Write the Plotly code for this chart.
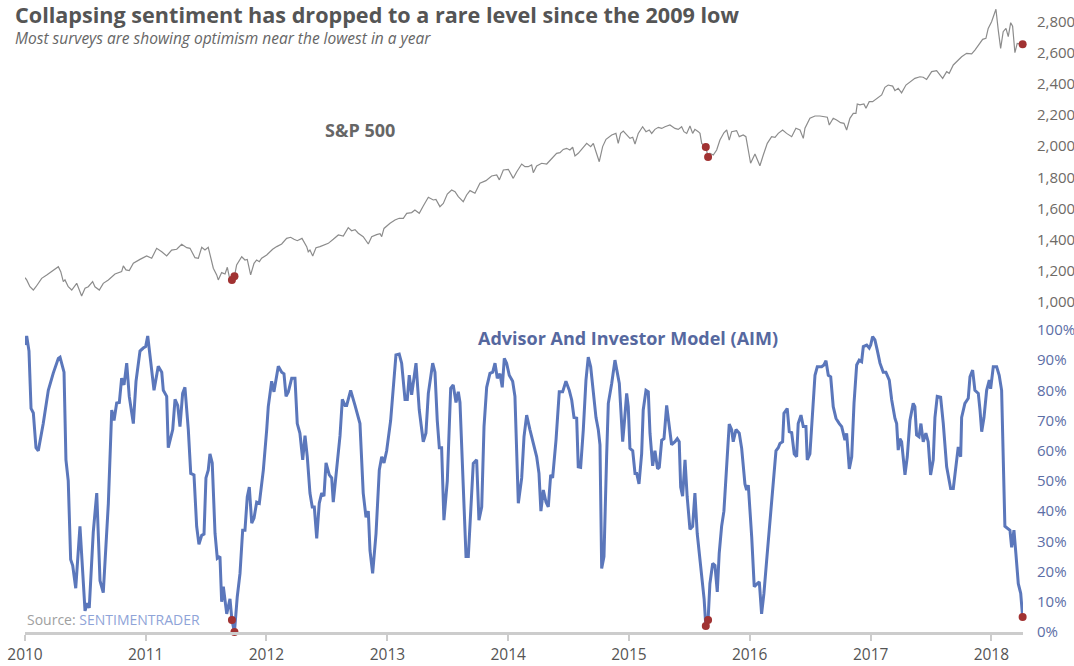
import pandas as pd
import plotly.graph_objects as go

SPX_YEARS = [
    2010.000, 2010.014, 2010.041, 2010.069, 2010.091, 2010.110, 2010.138, 2010.180, 2010.234, 2010.276,
    2010.296, 2010.317, 2010.331, 2010.358, 2010.387, 2010.428, 2010.469, 2010.497, 2010.524, 2010.560,
    2010.579, 2010.615, 2010.648, 2010.690, 2010.745, 2010.800, 2010.814, 2010.836, 2010.863, 2010.897,
    2010.952,
    2011.007, 2011.049, 2011.090, 2011.132, 2011.173, 2011.214, 2011.256, 2011.297, 2011.339, 2011.366,
    2011.407, 2011.435, 2011.463, 2011.490, 2011.517, 2011.559, 2011.587, 2011.600, 2011.628, 2011.656,
    2011.675, 2011.691, 2011.713, 2011.734, 2011.752, 2011.794, 2011.821, 2011.840, 2011.868, 2011.896,
    2011.918, 2011.940, 2011.959,
    2012.001, 2012.050, 2012.084, 2012.125, 2012.166, 2012.199, 2012.227, 2012.254, 2012.293, 2012.332,
    2012.345, 2012.359, 2012.382, 2012.409, 2012.442, 2012.475, 2012.511, 2012.552, 2012.594, 2012.635,
    2012.676, 2012.704, 2012.732, 2012.759, 2012.800, 2012.842, 2012.870, 2012.911, 2012.939, 2012.953,
    2012.972,
    2013.022, 2013.063, 2013.098, 2013.132, 2013.160, 2013.201, 2013.228, 2013.264, 2013.297, 2013.339,
    2013.380, 2013.402, 2013.435, 2013.463, 2013.496, 2013.532, 2013.560, 2013.587, 2013.628, 2013.656,
    2013.684, 2013.725, 2013.766, 2013.816, 2013.863, 2013.905, 2013.927, 2013.960,
    2014.001, 2014.042, 2014.070, 2014.112, 2014.139, 2014.166, 2014.194, 2014.208, 2014.236, 2014.277,
    2014.319, 2014.360, 2014.401, 2014.429, 2014.456, 2014.484, 2014.511, 2014.534, 2014.553, 2014.580,
    2014.622, 2014.650, 2014.683, 2014.705, 2014.727, 2014.754, 2014.782, 2014.810, 2014.857, 2014.892,
    2014.911, 2014.931, 2014.953, 2014.981,
    2015.008, 2015.031, 2015.050, 2015.077, 2015.113, 2015.141, 2015.168, 2015.188, 2015.215, 2015.243,
    2015.271, 2015.298, 2015.339, 2015.381, 2015.408, 2015.436, 2015.455, 2015.478, 2015.505, 2015.527,
    2015.546, 2015.574, 2015.588, 2015.602, 2015.636, 2015.655, 2015.670, 2015.698, 2015.726, 2015.753,
    2015.786, 2015.809, 2015.830, 2015.850, 2015.891, 2015.913, 2015.946, 2015.968,
    2016.007, 2016.043, 2016.062, 2016.084, 2016.112, 2016.145, 2016.181, 2016.209, 2016.236, 2016.272,
    2016.305, 2016.347, 2016.382, 2016.416, 2016.443, 2016.457, 2016.498, 2016.540, 2016.581, 2016.622,
    2016.642, 2016.658, 2016.691, 2016.719, 2016.752, 2016.780, 2016.802, 2016.829, 2016.857, 2016.879,
    2016.890, 2016.912, 2016.945, 2016.962, 2016.989,
    2017.017, 2017.055, 2017.092, 2017.119, 2017.146, 2017.183, 2017.202, 2017.229, 2017.257, 2017.293,
    2017.332, 2017.367, 2017.409, 2017.436, 2017.464, 2017.506, 2017.547, 2017.574, 2017.597, 2017.630,
    2017.651, 2017.685, 2017.726, 2017.754, 2017.795, 2017.837, 2017.864, 2017.900, 2017.928, 2017.955,
    2017.974,
    2018.002, 2018.038, 2018.057, 2018.077, 2018.098, 2018.121, 2018.140, 2018.160, 2018.176, 2018.195,
    2018.214, 2018.259,
]
SPX_VALUES = [
    1154, 1140, 1096, 1075, 1096, 1118, 1150, 1172, 1204, 1225,
    1193, 1129, 1140, 1096, 1075, 1118, 1037, 1086, 1096, 1129,
    1096, 1075, 1118, 1140, 1178, 1193, 1230, 1204, 1200, 1247,
    1272,
    1294, 1279, 1343, 1321, 1294, 1332, 1337, 1369, 1347, 1343,
    1283, 1279, 1350, 1332, 1350, 1215, 1172, 1140, 1187, 1178,
    1221, 1161, 1140, 1163, 1236, 1289, 1268, 1272, 1172, 1247,
    1268, 1257, 1279,
    1300, 1337, 1354, 1371, 1407, 1414, 1401, 1392, 1407, 1354,
    1321, 1332, 1294, 1347, 1354, 1365, 1375, 1401, 1429, 1422,
    1476, 1456, 1463, 1440, 1418, 1371, 1418, 1431, 1437, 1418,
    1471,
    1504, 1525, 1536, 1536, 1568, 1573, 1590, 1568, 1615, 1671,
    1654, 1658, 1611, 1632, 1692, 1718, 1707, 1675, 1643, 1686,
    1714, 1697, 1761, 1778, 1808, 1815, 1783, 1847,
    1851, 1793, 1834, 1885, 1868, 1868, 1879, 1829, 1872, 1890,
    1885, 1922, 1954, 1958, 1979, 1986, 1975, 1993, 1937, 1954,
    1997, 2018, 1997, 2018, 1964, 1900, 1997, 2044, 2072, 2082,
    2018, 2082, 2097, 2072,
    2050, 2057, 2014, 2082, 2125, 2093, 2104, 2082, 2108, 2121,
    2114, 2125, 2136, 2114, 2108, 2125, 2093, 2082, 2130, 2082,
    2108, 2093, 2082, 2018, 1995, 1930, 1954, 1943, 1975, 2039,
    2086, 2104, 2039, 2093, 2100, 2061, 2072, 2061,
    1890, 1949, 1911, 1874, 1943, 2018, 2061, 2057, 2082, 2104,
    2082, 2061, 2115, 2104, 2050, 2115, 2179, 2194, 2194, 2190,
    2186, 2136, 2179, 2168, 2151, 2147, 2104, 2179, 2211, 2211,
    2271, 2265, 2271, 2243, 2286,
    2286, 2308, 2329, 2378, 2393, 2386, 2357, 2372, 2343, 2393,
    2414, 2436, 2446, 2443, 2429, 2479, 2486, 2457, 2436, 2479,
    2468, 2522, 2554, 2575, 2597, 2593, 2618, 2661, 2687, 2693,
    2757,
    2800, 2880, 2747, 2629, 2736, 2757, 2704, 2794, 2771, 2601,
    2661, 2655,
]

AIM_YEARS = [
    2010.000, 2010.014, 2010.033, 2010.050, 2010.069, 2010.091, 2010.110, 2010.151, 2010.193, 2010.234,
    2010.276, 2010.290, 2010.323, 2010.339, 2010.358, 2010.378, 2010.395, 2010.420, 2010.455, 2010.469,
    2010.497, 2010.516, 2010.532, 2010.565, 2010.594, 2010.621, 2010.648, 2010.690, 2010.718, 2010.737,
    2010.759, 2010.781, 2010.800, 2010.820, 2010.842, 2010.863, 2010.897, 2010.919, 2010.952, 2010.979,
    2010.999,
    2011.016, 2011.035, 2011.068, 2011.103, 2011.132, 2011.145, 2011.173, 2011.186, 2011.223, 2011.242,
    2011.264, 2011.283, 2011.305, 2011.324, 2011.352, 2011.372, 2011.399, 2011.421, 2011.440, 2011.463,
    2011.482, 2011.498, 2011.517, 2011.531, 2011.550, 2011.573, 2011.592, 2011.614, 2011.628, 2011.642,
    2011.670, 2011.697, 2011.713, 2011.734, 2011.757, 2011.780, 2011.802, 2011.821, 2011.840, 2011.857,
    2011.877, 2011.896, 2011.918, 2011.940, 2011.973,
    2012.001, 2012.014, 2012.042, 2012.061, 2012.097, 2012.125, 2012.144, 2012.161, 2012.180, 2012.208,
    2012.235, 2012.254, 2012.276, 2012.299, 2012.318, 2012.337, 2012.359, 2012.378, 2012.395, 2012.415,
    2012.436, 2012.456, 2012.475, 2012.492, 2012.519, 2012.539, 2012.552, 2012.580, 2012.608, 2012.627,
    2012.649, 2012.663, 2012.696, 2012.732, 2012.759, 2012.773, 2012.800, 2012.823, 2012.842, 2012.856,
    2012.878, 2012.906, 2012.933, 2012.953, 2012.972, 2012.994,
    2013.027, 2013.049, 2013.071, 2013.098, 2013.118, 2013.146, 2013.165, 2013.181, 2013.201, 2013.237,
    2013.264, 2013.297, 2013.319, 2013.339, 2013.375, 2013.394, 2013.413, 2013.430, 2013.449, 2013.468,
    2013.496, 2013.524, 2013.545, 2013.568, 2013.587, 2013.601, 2013.623, 2013.651, 2013.670, 2013.692,
    2013.711, 2013.739, 2013.758, 2013.781, 2013.800, 2013.822, 2013.849, 2013.872, 2013.891, 2013.910,
    2013.932, 2013.951, 2013.968, 2013.987,
    2014.009, 2014.037, 2014.056, 2014.084, 2014.112, 2014.131, 2014.153, 2014.180, 2014.208, 2014.236,
    2014.255, 2014.271, 2014.291, 2014.313, 2014.332, 2014.352, 2014.368, 2014.396, 2014.423, 2014.451,
    2014.478, 2014.506, 2014.526, 2014.545, 2014.567, 2014.580, 2014.600, 2014.622, 2014.644, 2014.663,
    2014.683, 2014.705, 2014.727, 2014.746, 2014.760, 2014.774, 2014.793, 2014.815, 2014.829, 2014.857,
    2014.884, 2014.920, 2014.948, 2014.961, 2014.981, 2014.994,
    2015.008, 2015.031, 2015.050, 2015.064, 2015.083, 2015.105, 2015.118, 2015.141, 2015.160, 2015.174,
    2015.196, 2015.215, 2015.237, 2015.251, 2015.271, 2015.290, 2015.312, 2015.334, 2015.353, 2015.381,
    2015.400, 2015.416, 2015.428, 2015.444, 2015.464, 2015.482, 2015.505, 2015.527, 2015.546, 2015.565,
    2015.588, 2015.610, 2015.622, 2015.636, 2015.655, 2015.670, 2015.693, 2015.712, 2015.731, 2015.747,
    2015.767, 2015.786, 2015.809, 2015.830, 2015.850, 2015.863, 2015.886, 2015.913, 2015.933, 2015.960,
    2015.974, 2015.988,
    2016.016, 2016.037, 2016.062, 2016.079, 2016.098, 2016.117, 2016.140, 2016.167, 2016.195, 2016.217,
    2016.236, 2016.250, 2016.272, 2016.283, 2016.310, 2016.327, 2016.347, 2016.368, 2016.388, 2016.401,
    2016.424, 2016.443, 2016.465, 2016.476, 2016.498, 2016.521, 2016.540, 2016.559, 2016.595, 2016.614,
    2016.631, 2016.650, 2016.670, 2016.691, 2016.714, 2016.741, 2016.761, 2016.788, 2016.802, 2016.824,
    2016.844, 2016.863, 2016.885, 2016.906, 2016.926, 2016.940, 2016.968, 2016.989,
    2017.001, 2017.017, 2017.036, 2017.055, 2017.078, 2017.105, 2017.127, 2017.155, 2017.175, 2017.202,
    2017.216, 2017.229, 2017.243, 2017.257, 2017.285, 2017.304, 2017.326, 2017.353, 2017.367, 2017.381,
    2017.401, 2017.417, 2017.436, 2017.458, 2017.477, 2017.497, 2017.519, 2017.533, 2017.552, 2017.580,
    2017.602, 2017.630, 2017.663, 2017.685, 2017.707, 2017.726, 2017.746, 2017.754, 2017.781, 2017.809,
    2017.823, 2017.845, 2017.864, 2017.892, 2017.906, 2017.920, 2017.939, 2017.961, 2017.983, 2017.994,
    2018.016, 2018.044, 2018.065, 2018.085, 2018.112, 2018.154, 2018.168, 2018.187, 2018.203, 2018.223,
    2018.243, 2018.259,
]
AIM_VALUES = [
    95, 98, 93, 74, 72.5, 61, 60, 69, 80, 85.7,
    90.6, 91, 86, 57, 50, 24, 22, 14.5, 35, 26,
    7, 9.5, 8, 33, 46, 17, 13, 42.6, 73.5, 70,
    75.8, 76, 84, 81.8, 89, 78, 69, 83, 93, 94,
    94.5,
    98, 91, 80, 88, 86, 80, 78, 61, 67, 77,
    75, 68, 79, 81, 67, 52.5, 52, 35, 29, 32,
    32.4, 51, 53.6, 59, 56, 32.7, 24.4, 25, 10, 15,
    6, 11, 4, 0, 11.6, 19.4, 33.7, 33.7, 44.7, 48,
    36, 37.7, 43, 42.6, 53.6,
    67, 74.6, 83, 79.5, 88, 86, 85.5, 78, 79.5, 84,
    84, 69, 65.8, 57, 65, 58, 46, 41.4, 41.4, 31,
    42.6, 46, 45, 56, 52, 51, 43, 54, 65, 77,
    75, 75, 80, 75, 71, 69, 46, 38, 40, 27,
    19.4, 32.6, 53.6, 58, 56, 60,
    70, 81, 91.7, 92, 89, 77, 77, 85, 78.5, 89,
    73.5, 63, 65.8, 79, 89, 86, 70, 61, 61, 37,
    50, 80.7, 81.8, 76, 79.5, 76, 53.6, 25, 25, 41.4,
    55.8, 57, 37, 41.4, 68, 81, 85.6, 86, 89, 84,
    85.5, 81, 90.6, 89,
    85, 83, 78, 42.6, 51, 64.6, 71.8, 67, 62.4, 58,
    52.5, 40, 47, 43, 41.4, 52, 51, 63.5, 79.5, 79.5,
    83, 80, 76.8, 71, 70.8, 54.7, 54.5, 67, 83.4, 91,
    87.8, 78, 71, 67, 62, 21, 25, 58, 75.7, 82.3,
    90, 82.3, 63, 69, 79, 74.6,
    60.8, 60, 52.5, 52.5, 49, 59, 73.5, 80, 79.5, 65.8,
    55, 60, 54, 54.5, 63.5, 64, 75, 68, 62, 63,
    64, 63, 48, 45, 57, 44.7, 34, 35, 46, 32.6,
    23.8, 15, 11, 2, 4, 16, 22.7, 22, 13.3, 26,
    35, 40, 57, 68.8, 67, 63, 67, 65.8, 60.8, 49,
    47, 48.6,
    31.5, 15, 16, 16.6, 6, 12.7, 23.8, 37, 49, 60,
    61, 62.4, 63, 72.4, 74, 66.3, 66, 59, 58, 69,
    71.8, 68, 68, 57, 59, 75.7, 85, 87.8, 87.8, 88.4,
    89.8, 85, 84.5, 74.6, 70.7, 69, 68, 63.5, 65.8, 54,
    58, 75.7, 88.4, 90, 89.5, 94.5, 95, 94,
    95, 97.8, 96.7, 93.4, 89, 86, 86, 83.4, 76.8, 70.7,
    69, 60.2, 64, 63, 52, 58, 70, 75.7, 74.6, 65.2,
    64.6, 69, 63, 65.8, 63, 52, 57, 71, 78, 77.7,
    69, 54.7, 47.5, 47.5, 54.7, 61.3, 58, 71, 75.7, 77.4,
    84.5, 86.7, 80, 79, 73.5, 66.3, 71, 80, 83.4, 80.5,
    87.8, 87.8, 85, 80, 35, 33.7, 28, 33.7, 26, 16,
    12.8, 5,
]

# Weeks when sentiment hit the rare extreme
SIGNAL_YEARS = [2011.713, 2011.734, 2015.636, 2015.655, 2018.259]
SIGNAL_SPX = [1140, 1163, 1995, 1930, 2655]
SIGNAL_AIM = [4, 0, 2, 4, 5]

FONT = "Open Sans"
AIM_BLUE = "#5b77bb"
DOT_RED = "#a13232"


def to_dates(years):
    """Convert decimal years into timestamps."""
    base = pd.Timestamp("2010-01-01")
    return [base + pd.Timedelta(days=(y - 2010) * 365.25) for y in years]


fig = go.Figure()

fig.add_trace(go.Scatter(
    x=to_dates(SPX_YEARS), y=SPX_VALUES, yaxis="y2", mode="lines",
    line=dict(color="#8c8c8c", width=1.2), hoverinfo="skip"
))
fig.add_trace(go.Scatter(
    x=to_dates(AIM_YEARS), y=AIM_VALUES, mode="lines",
    line=dict(color=AIM_BLUE, width=3), hoverinfo="skip"
))
fig.add_trace(go.Scatter(
    x=to_dates(SIGNAL_YEARS), y=SIGNAL_SPX, yaxis="y2", mode="markers",
    marker=dict(color=DOT_RED, size=8), cliponaxis=False
))
fig.add_trace(go.Scatter(
    x=to_dates(SIGNAL_YEARS), y=SIGNAL_AIM, mode="markers",
    marker=dict(color=DOT_RED, size=8), cliponaxis=False
))

x_end = to_dates([SIGNAL_YEARS[-1] + 0.003])[0]

fig.update_layout(
    width=1074, height=666,
    margin=dict(l=25, r=51, t=4, b=34, autoexpand=False),
    paper_bgcolor="white", plot_bgcolor="white",
    showlegend=False,
    font=dict(family=FONT, size=15, color="#555555"),
    xaxis=dict(
        type="date", range=[pd.Timestamp("2010-01-01"), x_end], automargin=False,
        showline=True, linecolor="#cccccc", linewidth=3,
        ticks="outside", ticklen=6, tickwidth=2, tickcolor="#cccccc",
        dtick="M12", tick0="2010-01-01", tickformat="%Y",
        tickfont=dict(size=15.5, color="#555555"),
        showgrid=False, zeroline=False,
    ),
    yaxis=dict(
        domain=[0, 0.481], range=[0, 100], side="right", automargin=False,
        dtick=10, ticksuffix="%", ticklabelstandoff=13,
        tickfont=dict(size=15, color="#5c6ea6"),
        showgrid=False, zeroline=False,
    ),
    yaxis2=dict(
        domain=[0.5, 1], range=[895, 2914], side="right", anchor="x", automargin=False,
        dtick=200, tickformat=",", ticklabelstandoff=13,
        tickfont=dict(size=15, color="#6e6a66"),
        showgrid=False, zeroline=False,
    ),
)

# title and subtitle share one text block so their lines stack cleanly
fig.add_annotation(
    xref="paper", yref="paper", x=-0.011, y=0.9678, xanchor="left", yanchor="middle",
    align="left", borderpad=0,
    text=(
        "<span style='font-size:21.6px;color:#555555'><b>Collapsing sentiment has dropped "
        "to a rare level since the 2009 low</b></span><br>"
        "<span style='font-size:15.5px;color:#666666'><i>Most surveys are showing optimism "
        "near the lowest in a year</i></span>"
    ),
    showarrow=False, font=dict(family=FONT, size=16.5)
)
fig.add_annotation(
    xref="paper", yref="paper", x=0.2986, y=0.799, xanchor="left", yanchor="middle",
    text="<b>S&P 500</b>", showarrow=False,
    font=dict(family=FONT, size=18, color="#666666")
)
fig.add_annotation(
    xref="paper", yref="paper", x=0.6047, y=0.468, xanchor="center", yanchor="middle",
    text="<b>Advisor And Investor Model (AIM)</b>", showarrow=False,
    font=dict(family=FONT, size=18, color="#56689f")
)
fig.add_annotation(
    xref="paper", yref="paper", x=0, y=0.0207, xanchor="left", yanchor="middle",
    text="<span style='color:#a0a0a0'>Source: </span><span style='color:#8fa4d8'>SENTIMENTRADER</span>",
    showarrow=False, font=dict(family=FONT, size=14)
)

# the page's default body margin would shift the fixed-size figure by 8px
fig.write_html(
    "out.html",
    config={"displayModeBar": False},
    post_script="document.body.style.margin = '0';",
)
